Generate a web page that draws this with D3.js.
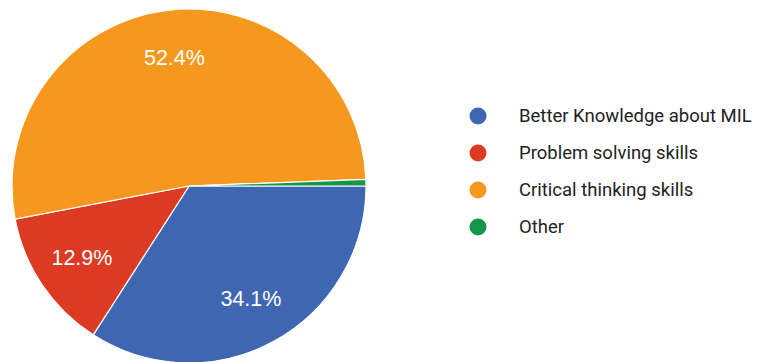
<!DOCTYPE html>
<html>
<head>
<meta charset="utf-8">
<script src="https://cdn.jsdelivr.net/npm/d3@7"></script>
<style>
  html, body { margin: 0; padding: 0; background: #fff; }
  svg { display: block; }
</style>
</head>
<body>
<svg id="chart" width="760" height="362"></svg>
<script>
// Survey responses: perceived benefit
const categories = ["Better Knowledge about MIL", "Problem solving skills", "Critical thinking skills", "Other"];
const shares = [34.1, 12.9, 52.4, 0.6];
const colors = ["#3f66b1", "#dc3a22", "#f6981e", "#14964a"];

const svg = d3.select("#chart");
const cx = 189, cy = 186, r = 177;

const data = categories.map((c, i) => ({ name: c, value: shares[i], color: colors[i] }));

// Slices run clockwise starting from 3 o'clock
const pie = d3.pie()
  .value(d => d.value)
  .sort(null)
  .startAngle(Math.PI / 2)
  .endAngle(Math.PI / 2 + 2 * Math.PI);

const arc = d3.arc().innerRadius(0).outerRadius(r);
const labelArc = d3.arc().innerRadius(r * 0.73).outerRadius(r * 0.73);

const g = svg.append("g").attr("transform", `translate(${cx},${cy})`);
const arcs = pie(data);

g.selectAll("path.slice")
  .data(arcs)
  .join("path")
  .attr("class", "slice")
  .attr("d", arc)
  .attr("fill", d => d.data.color)
  .attr("stroke", "#fff")
  .attr("stroke-width", 1.2);

g.selectAll("text.pct")
  .data(arcs.filter(d => d.data.value >= 5))
  .join("text")
  .attr("class", "pct")
  .attr("transform", d => `translate(${labelArc.centroid(d)})`)
  .attr("text-anchor", "middle")
  .attr("dominant-baseline", "central")
  .attr("font-family", "'Liberation Sans', Arial, sans-serif")
  .attr("font-size", 21.5)
  .attr("fill", "#fff")
  .text(d => d.data.value.toFixed(1) + "%");

// Legend
const legend = svg.append("g").attr("transform", "translate(478,116)");
const item = legend.selectAll("g.item")
  .data(data)
  .join("g")
  .attr("class", "item")
  .attr("transform", (d, i) => `translate(0,${i * 37})`);

item.append("circle")
  .attr("r", 8.5)
  .attr("fill", d => d.color);

item.append("text")
  .attr("x", 41)
  .attr("dominant-baseline", "central")
  .attr("font-family", "Roboto, sans-serif")
  .attr("font-size", 18.5)
  .attr("fill", "#222")
  .text(d => d.name);
</script>
</body>
</html>
